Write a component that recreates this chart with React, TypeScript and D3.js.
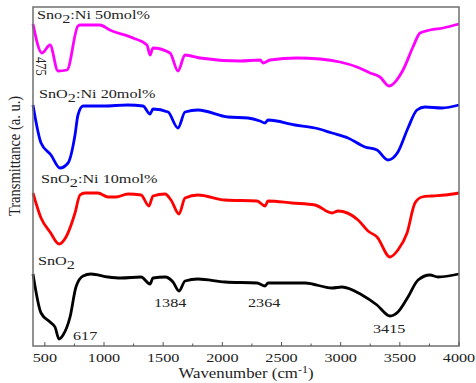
import { useRef, useEffect } from "react";
import * as d3 from "d3";

// wavenumbers (cm-1) and transmittance (a. u., offset per sample)
const ni50Wn = [400, 476, 544, 611, 687, 780, 800, 966, 1050, 1245, 1363, 1389, 1414, 1558, 1625, 1685, 1811, 2150, 2320, 2344, 2403, 2631, 2825, 2994, 3138, 3248, 3332, 3408, 3527, 3611, 3671, 3755, 3865, 4000];
const ni50T = [322, 293, 301, 275, 276, 320, 321, 321, 316, 308, 301, 291, 298, 293, 275, 291, 288, 285, 286, 283, 286, 288, 287, 284, 279, 273, 269, 260, 276, 299, 313, 316, 318, 322];

const ni20Wn = [400, 468, 552, 628, 696, 755, 780, 823, 1000, 1200, 1330, 1389, 1414, 1541, 1625, 1685, 1794, 2048, 2217, 2318, 2361, 2386, 2614, 2783, 2927, 3062, 3206, 3307, 3400, 3484, 3569, 3645, 3713, 3856, 4000];
const ni20T = [241, 203, 191, 178, 183, 211, 231, 240, 240, 241, 240, 232, 237, 234, 218, 234, 236, 229, 228, 225, 223, 226, 221, 218, 213, 208, 199, 196, 186, 194, 218, 236, 239, 238, 241];

const ni10Wn = [400, 468, 544, 620, 679, 755, 797, 839, 949, 1034, 1101, 1203, 1313, 1380, 1414, 1516, 1566, 1634, 1685, 1794, 2023, 2293, 2361, 2386, 2589, 2783, 2927, 2977, 3147, 3231, 3307, 3417, 3484, 3561, 3628, 3688, 3772, 3882, 4000];
const ni10T = [153, 128, 114, 102, 109, 133, 151, 153, 153, 149, 149, 152, 151, 140, 150, 152, 146, 132, 148, 151, 146, 145, 140, 145, 143, 141, 133, 135, 126, 115, 109, 89, 96, 113, 143, 149, 150, 151, 153];

const sno2Wn = [400, 468, 544, 586, 620, 654, 713, 763, 823, 890, 1034, 1144, 1313, 1389, 1414, 1516, 1583, 1634, 1685, 1794, 2023, 2293, 2361, 2386, 2699, 2927, 3011, 3180, 3307, 3417, 3484, 3569, 3654, 3755, 3823, 4000];
const sno2T = [72, 33, 24, 19, 7, 11, 29, 59, 70, 72, 69, 68, 69, 62, 68, 69, 64, 55, 65, 67, 64, 63, 60, 63, 63, 58, 59, 51, 41, 30, 34, 49, 66, 71, 69, 72];

const majorTicks = [500, 1000, 1500, 2000, 2500, 3000, 3500, 4000];
const minorTicks = [750, 1250, 1750, 2250, 2750, 3250, 3750];

const peakLabels = ["617", "1384", "2364", "3415"];

const FONT = "'Liberation Serif', 'Times New Roman', serif";
const SX = 1.2; // the original picture is stretched sideways

const FtirChart = () => {
  const chartRef = useRef<HTMLDivElement | null>(null);

  useEffect(() => {
    if (chartRef.current === null) return;
    document.body.style.margin = "0";

    const width = 476;
    const height = 383;
    const left = 33;
    const right = 459;
    const top = 7;
    const bottom = 346;

    d3.select(chartRef.current).select("svg").remove();

    const svg = d3
      .select(chartRef.current)
      .append("svg")
      .attr("width", width)
      .attr("height", height)
      .style("display", "block")
      .style("font-family", FONT);

    const x = d3.scaleLinear().domain([400, 4000]).range([left, right]);
    const y = d3.scaleLinear().domain([0, 339]).range([bottom, top]);

    const line = d3
      .line<[number, number]>()
      .x((d) => x(d[0]))
      .y((d) => y(d[1]))
      .curve(d3.curveMonotoneX);

    const series = [
      { wn: ni50Wn, t: ni50T, color: "#ff00ff" },
      { wn: ni20Wn, t: ni20T, color: "#0000ff" },
      { wn: ni10Wn, t: ni10T, color: "#ff0000" },
      { wn: sno2Wn, t: sno2T, color: "#000000" },
    ];

    series.forEach((s) => {
      const pts = s.wn.map((w, i) => [w, s.t[i]] as [number, number]);
      svg
        .append("path")
        .attr("d", line(pts))
        .attr("fill", "none")
        .attr("stroke", s.color)
        .attr("stroke-width", 2.8)
        .attr("stroke-linejoin", "round");
    });

    // frame
    svg
      .append("rect")
      .attr("x", left)
      .attr("y", top)
      .attr("width", right - left)
      .attr("height", bottom - top)
      .attr("fill", "none")
      .attr("stroke", "#6f6f6f")
      .attr("stroke-width", 1.5);

    // x axis ticks (inward)
    svg
      .append("g")
      .selectAll("line")
      .data(majorTicks)
      .enter()
      .append("line")
      .attr("x1", (d) => x(d))
      .attr("x2", (d) => x(d))
      .attr("y1", bottom)
      .attr("y2", bottom - 4)
      .attr("stroke", "#555");

    svg
      .append("g")
      .selectAll("line")
      .data(minorTicks)
      .enter()
      .append("line")
      .attr("x1", (d) => x(d))
      .attr("x2", (d) => x(d))
      .attr("y1", bottom)
      .attr("y2", bottom - 2.5)
      .attr("stroke", "#555");

    // stretched text helper
    const label = (xp: number, yp: number, size: number, anchor = "start") =>
      svg
        .append("text")
        .attr("transform", `translate(${xp},${yp}) scale(${SX},1)`)
        .attr("text-anchor", anchor)
        .attr("font-size", size)
        .attr("fill", "#222");

    majorTicks.forEach((d) => {
      label(x(d), 362, 13.5, "middle").text(String(d));
    });

    // axis titles
    const xt = label(246, 378, 14, "middle");
    xt.append("tspan").text("Wavenumber (cm");
    xt.append("tspan").attr("dy", -5).attr("font-size", 10).text("-1");
    xt.append("tspan").attr("dy", 5).text(")");

    svg
      .append("text")
      .attr("transform", "translate(20,156) rotate(-90) scale(1,1.1)")
      .attr("text-anchor", "middle")
      .attr("font-size", 14.5)
      .attr("fill", "#222")
      .text("Transmittance (a. u.)");

    // sample labels
    const sampleLabel = (xp: number, yp: number, head: string, tail: string) => {
      const t = label(xp, yp, 13.5);
      t.append("tspan").text(head);
      t.append("tspan").attr("dy", 4).text("2");
      if (tail) t.append("tspan").attr("dy", -4).text(tail);
    };
    sampleLabel(37, 19, "Sno", ":Ni 50mol%");
    sampleLabel(39, 98, "SnO", ":Ni 20mol%");
    sampleLabel(41, 183, "SnO", ":Ni 10mol%");
    sampleLabel(38, 265, "SnO", "");

    // peak labels
    const peakPos: [number, number][] = [
      [73, 340],
      [154, 307],
      [248, 307],
      [373, 333],
    ];
    peakLabels.forEach((p, i) => {
      label(peakPos[i][0], peakPos[i][1], 13.5).text(p);
    });

    svg
      .append("text")
      .attr("transform", "translate(36,57) rotate(90) scale(1,1.2)")
      .attr("font-size", 12.5)
      .attr("fill", "#222")
      .text("475");
  }, []);

  return <div ref={chartRef} />;
};

export default function App() {
  return <FtirChart />;
}
